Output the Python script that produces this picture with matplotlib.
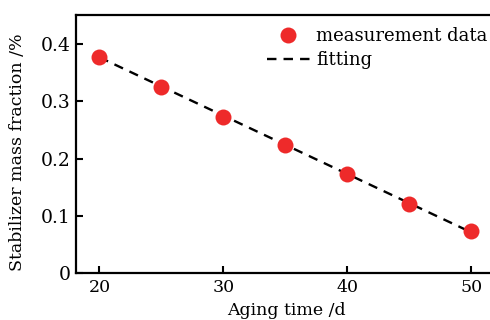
import numpy as np
import matplotlib
matplotlib.use("Agg")
import matplotlib.pyplot as plt

# measured data
aging_days = [20, 25, 30, 35, 40, 45, 50]
stabilizer = [0.378, 0.325, 0.273, 0.223, 0.173, 0.121, 0.073]

# fitted line end points
fit_days = [20, 50]
fit_vals = [0.377, 0.071]

x_ticks = [20, 30, 40, 50]
y_ticks = [0, 0.1, 0.2, 0.3, 0.4]
y_tick_labels = ["0", "0.1", "0.2", "0.3", "0.4"]

plt.rcParams['font.family'] = ['DejaVu Serif']
plt.rcParams['font.size'] = 12.5

fig = plt.figure(figsize=(4.9, 3.2), dpi=100)
# right spine sits just outside the image, as in the reference
ax = fig.add_axes([0.155, 0.147, 0.86, 0.806])

ax.plot(aging_days, stabilizer, 'o', color='#ee2a2a', markersize=11.5,
        markeredgewidth=0, label='measurement data', zorder=3)
ax.plot(fit_days, fit_vals, '--', color='black', linewidth=1.7,
        dashes=(4, 3), label='fitting', zorder=2)

ax.set_xlim(18.1, 52.1)
ax.set_ylim(0, 0.451)
ax.set_xticks(x_ticks)
ax.set_yticks(y_ticks)
ax.set_yticklabels(y_tick_labels)
ax.tick_params(axis='y', labelsize=13.5)
ax.tick_params(direction='in', length=5, width=1.5, top=False, right=False, pad=4)

for s in ax.spines.values():
    s.set_linewidth(1.6)

ax.set_xlabel('Aging time /d', labelpad=5)
ax.set_ylabel('Stabilizer mass fraction /%')
ax.yaxis.set_label_coords(-0.118, 0.47)

ax.legend(loc='upper right', bbox_to_anchor=(0.99, 0.975), frameon=False,
          handlelength=2.4, handletextpad=0.35, borderaxespad=0.0,
          labelspacing=0.35, borderpad=0.3, fontsize=13)

fig.savefig('out.png', dpi=100)
